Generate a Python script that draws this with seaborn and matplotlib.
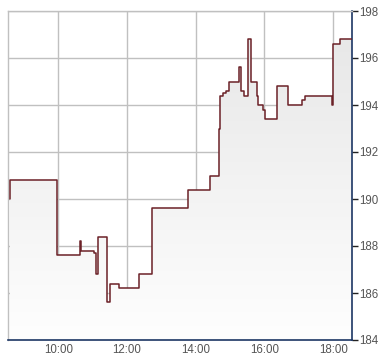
import matplotlib
matplotlib.use("Agg")
import matplotlib.pyplot as plt
import numpy as np
import pandas as pd
import seaborn as sns
from matplotlib.colors import LinearSegmentedColormap

# ---- data ----
times = ["08:35", "08:36", "09:57", "10:38", "10:39", "11:03", "11:05", "11:10",
         "11:25", "11:30", "11:46", "12:21", "12:44", "13:46", "14:25", "14:41",
         "14:43", "14:47", "14:53", "14:58", "15:16", "15:19", "15:24", "15:32",
         "15:36", "15:47", "15:49", "15:58", "16:01", "16:22", "16:41", "17:06",
         "17:11", "17:58", "17:59", "18:12", "18:33"]
prices = [190.0, 190.8, 187.6, 188.2, 187.8, 187.7, 186.8, 188.4,
          185.6, 186.4, 186.2, 186.8, 189.6, 190.4, 191.0, 193.0,
          194.4, 194.5, 194.6, 195.0, 195.6, 194.6, 194.4, 196.8,
          195.0, 194.4, 194.0, 193.8, 193.4, 194.8, 194.0, 194.2,
          194.4, 194.0, 196.6, 196.8, 196.8]
x_tick_labels = ["10:00", "12:00", "14:00", "16:00", "18:00"]
y_ticks = [184, 186, 188, 190, 192, 194, 196, 198]


def to_hours(s):
    h, m = s.split(":")
    return int(h) + int(m) / 60.0


df = pd.DataFrame({"t": [to_hours(s) for s in times], "price": prices})
x_ticks = [to_hours(s) for s in x_tick_labels]

sns.set_style("white")
plt.rcParams["font.family"] = ["Liberation Sans", "DejaVu Sans"]

W, H = 390, 364
fig = plt.figure(figsize=(W / 100, H / 100), dpi=100)
ax = fig.add_axes([8 / W, 1 - 340 / H, (352 - 8) / W, (340 - 11) / H])

xmin, xmax = to_hours("08:32"), to_hours("18:33")
ymin, ymax = 184, 198

# gradient fill under the step line (darker at top, near white at bottom)
poly = ax.fill_between(df["t"], df["price"], ymin, step="post",
                       facecolor="none", edgecolor="none")
grad = np.linspace(0, 1, 256).reshape(-1, 1)
cmap = LinearSegmentedColormap.from_list("g", ["#e6e6e6", "#fefefe"])
im = ax.imshow(grad, extent=[xmin, xmax, ymin, ymax], aspect="auto",
               cmap=cmap, origin="upper", zorder=1)
im.set_clip_path(poly.get_paths()[0], transform=ax.transData)

sns.lineplot(data=df, x="t", y="price", ax=ax, drawstyle="steps-post",
             color="#6b2127", linewidth=1.1, zorder=3)

ax.set_xlim(xmin, xmax)
ax.set_ylim(ymin, ymax)
ax.set_xlabel("")
ax.set_ylabel("")

ax.set_xticks(x_ticks)
ax.set_xticklabels(x_tick_labels)
ax.set_yticks(y_ticks)
ax.set_yticklabels([str(v) for v in y_ticks])

ax.yaxis.tick_right()
ax.tick_params(axis="y", direction="out", length=4, width=1, color="#222222",
               labelsize=8.3, labelcolor="#555555", pad=1, left=False, right=True)
ax.tick_params(axis="x", length=0, labelsize=8.3, labelcolor="#555555", pad=3)

ax.grid(True, color="#c0c0c0", linewidth=1)
ax.set_axisbelow(True)

for side in ["left", "top"]:
    ax.spines[side].set_visible(True)
    ax.spines[side].set_color("#c0c0c0")
    ax.spines[side].set_linewidth(1)
for side in ["bottom", "right"]:
    ax.spines[side].set_visible(True)
    ax.spines[side].set_color("#1c3664")
    ax.spines[side].set_linewidth(1.2)

fig.savefig("out.png", dpi=100)
